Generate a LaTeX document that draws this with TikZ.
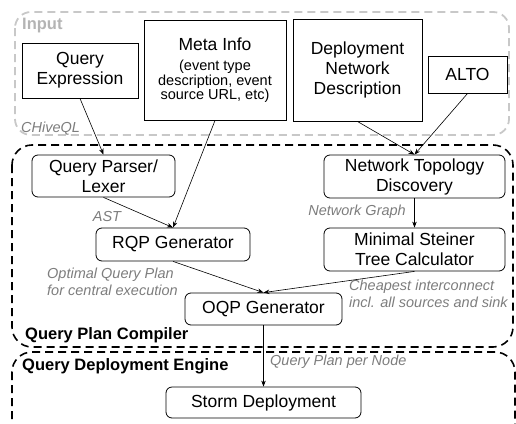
\documentclass[tikz,border=0pt]{standalone}
\usepackage{fontspec}
\setmainfont{Liberation Sans}
\usetikzlibrary{arrows.meta}
\definecolor{lbl}{RGB}{125,125,125}
\definecolor{frm}{RGB}{200,200,200}
\newcommand{\boxfnt}{\fontsize{17.5}{20}\selectfont}
\newcommand{\smfnt}{\fontsize{14.5}{13.5}\selectfont}
\newcommand{\lblfnt}{\fontsize{14.5}{17}\selectfont\itshape}
\newcommand{\grpfnt}{\fontsize{16.5}{19}\selectfont\bfseries}
\tikzset{
  inbox/.style={draw, line width=1pt, align=center, font=\boxfnt, inner sep=0pt},
  stage/.style={draw, rounded corners=6pt, line width=0.8pt, align=center, font=\boxfnt, inner sep=0pt},
  lbl/.style={text=lbl, font=\lblfnt, inner sep=0pt},
  grp/.style={font=\grpfnt, inner sep=0pt, anchor=west},
  flow/.style={-{Stealth[length=6pt,width=4.5pt]}, line width=0.6pt}
}
\begin{document}
\begin{tikzpicture}[x=1pt,y=-1pt]
  \useasboundingbox (0,0) rectangle (516,423);
  % group frames
  \draw[frm, line width=1.8pt, dash pattern=on 8pt off 5pt, rounded corners=16pt] (15,12) rectangle (509,135);
  \draw[line width=1.6pt, dash pattern=on 8pt off 5pt, rounded corners=20pt] (12,145) rectangle (513,347);
  \begin{scope}
    \clip (0,0) rectangle (516,423);
    \draw[line width=1.6pt, dash pattern=on 8pt off 5pt, rounded corners=20pt] (12,352) rectangle (515,445);
  \end{scope}
  \node[grp, text=frm!90!black] (input) at (22,26) {Input};
  \node[grp] (compiler) at (25,335) {Query Plan Compiler};
  \node[grp] (engine) at (22,366) {Query Deployment Engine};

  % inputs
  \node[inbox, minimum width=116, minimum height=55] (qexpr) at (80,70.5) {Query\\Expression};
  \node[inbox, minimum width=142, minimum height=100, font=\smfnt] (meta) at (215,70)
    {\boxfnt Meta Info\\[7pt]\smfnt (event type\\description, event\\source URL, etc)};
  \node[inbox, minimum width=129, minimum height=102] (deploy) at (357.5,70) {Deployment\\Network\\Description};
  \node[inbox, minimum width=79, minimum height=37] (alto) at (467.5,74.5) {ALTO};

  % compiler stages
  \node[stage, minimum width=143, minimum height=42] (parser) at (103.5,176) {Query Parser/\\Lexer};
  \node[stage, minimum width=154, minimum height=33] (rqp) at (173,244.5) {RQP Generator};
  \node[stage, minimum width=181, minimum height=43] (ntd) at (414.5,176.5) {Network Topology\\Discovery};
  \node[stage, minimum width=181, minimum height=43] (mst) at (414.5,249.5) {Minimal Steiner\\Tree Calculator};
  \node[stage, minimum width=157, minimum height=32] (oqp) at (263.5,309) {OQP Generator};
  \node[stage, minimum width=195, minimum height=31] (storm) at (263.5,402.5) {Storm Deployment};

  % edge labels
  \node[lbl, anchor=west] (chive) at (21,129) {CHiveQL};
  \node[lbl] (ast) at (107,217) {AST};
  \node[lbl, anchor=east] (graph) at (406,212) {Network Graph};
  \node[lbl, anchor=west, align=left] (optimal) at (47,281.5) {Optimal Query Plan\\for central execution};
  \node[lbl, anchor=west, align=left] (cheap) at (349,294) {Cheapest interconnect\\incl. all sources and sink};
  \node[lbl, anchor=west] (pernode) at (270,362) {Query Plan per Node};

  \draw[flow] (qexpr.south) -- (parser.north);
  \draw[flow] (meta.south) -- (rqp.north);
  \draw[flow] (deploy.south) -- (ntd.north);
  \draw[flow] (alto.south) -- (ntd.north);
  \draw[flow] (parser.south) -- (rqp.north);
  \draw[flow] (ntd.south) -- (mst.north);
  \draw[flow] (rqp.south) -- (oqp.north);
  \draw[flow] (mst.south) -- (oqp.north);
  \draw[flow] (oqp.south) -- (storm.north);
\end{tikzpicture}
\end{document}
